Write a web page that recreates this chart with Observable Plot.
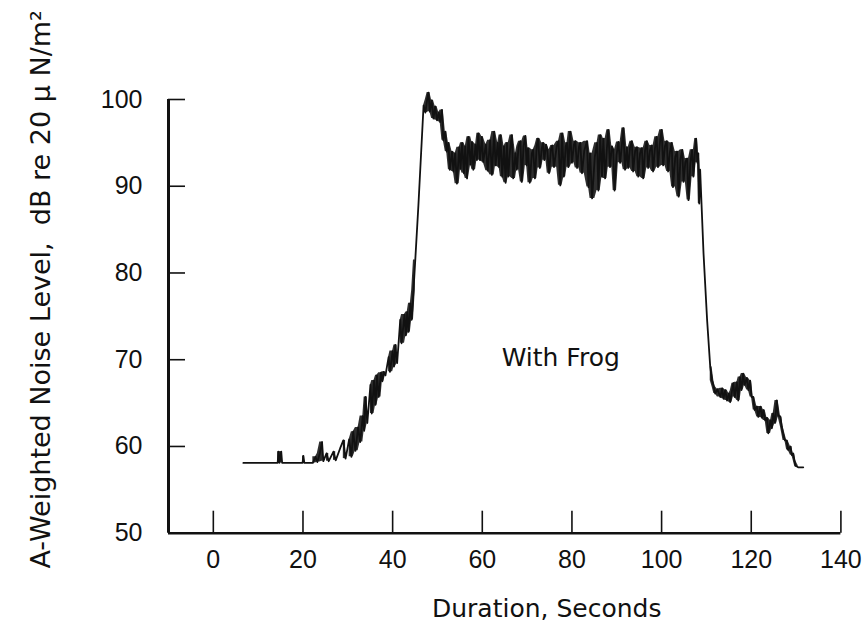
<!DOCTYPE html>
<html>
<head>
<meta charset="utf-8">
<script src="https://cdn.jsdelivr.net/npm/d3@7"></script>
<script src="https://cdn.jsdelivr.net/npm/@observablehq/plot@0.6"></script>
<style>
  html, body { margin: 0; padding: 0; background: #fff; }
  svg { display: block; }
</style>
</head>
<body>
<div id="chart"></div>
<script>
// Tick values
const xTicks = [0, 20, 40, 60, 80, 100, 120, 140];
const yTicks = [50, 60, 70, 80, 90, 100];

// Axis titles and annotation
const xTitle = "Duration, Seconds";
const yTitle = "A-Weighted Noise Level,\u00a0 dB re 20 \u03bc N/m\u00b2";
const annotation = [{label: "With Frog", t: 77.5, dB: 70.2}];

const samples = [
[6.7,58.1],[14.35,58.1],[14.55,59.4],[14.75,58.1],[15.15,59.4],[15.35,58.1],[19.9,58.1],[20.1,58.9],[20.3,58.1],
[22.2,58.1],[22.8,58.8],[23.2,58.2],[23.75,59.2],[24.25,60.5],[24.55,58.3],[25.25,59.2],[25.75,58.3],[26.8,59.4],
[27.3,58.4],[28.3,59.8],[29.0,60.7],[29.5,58.6],[30.3,60.8],[30.8,58.8],[31.2,61.7],[31.7,59.5],[32.3,62.2],
[32.75,60.5],[33.35,63.5],[33.65,61.8],[33.95,65.7],[34.35,62.7],[35.05,67.1],[35.35,63.8],[35.85,67.6],[36.2,64.8],
[36.5,68.2],[36.9,65.7],[37.4,68.5],[37.7,67.5],[38.0,68.6],[38.4,68.2],[39.1,70.3],[39.4,68.6],[40.0,71.0],
[40.3,69.2],[40.6,71.7],[41.0,69.6],[41.7,74.6],[42.0,71.9],[42.65,75.2],[42.95,72.8],[43.25,75.5],[43.55,73.2],
[43.95,76.5],[44.25,74.6],[44.65,78.0],[45.05,81.5],[45.75,87.8],[46.9,99.3],[47.3,98.5],[47.7,100.0],[48.0,100.8],
[48.3,98.6],[48.7,99.9],[49.1,97.8],[49.5,99.2],[49.9,97.6],[50.3,98.5],[50.6,97.4],[51.0,98.8],[51.3,95.3],
[51.75,96.3],[52.05,94.0],[52.45,95.0],[52.75,91.9],[53.25,94.0],[53.55,91.7],[53.95,93.8],[54.35,90.3],[54.85,94.5],
[55.15,92.0],[55.5,95.0],[55.9,91.5],[56.2,94.6],[56.6,90.9],[56.9,95.7],[57.4,92.5],[57.7,95.1],[58.0,91.9],
[58.5,94.8],[58.8,93.0],[59.1,96.1],[59.5,93.0],[59.9,95.7],[60.2,92.8],[60.8,94.8],[61.2,91.8],[61.75,95.3],
[62.15,91.3],[62.65,96.3],[62.95,92.4],[63.45,95.0],[63.75,92.2],[64.05,95.9],[64.45,91.1],[64.85,94.6],[65.2,90.4],
[65.5,95.0],[65.8,91.1],[66.2,94.2],[66.6,95.9],[66.9,90.9],[67.4,93.8],[67.7,91.9],[68.1,94.6],[68.5,95.2],
[68.8,90.5],[69.2,94.6],[69.6,95.8],[69.9,92.4],[70.2,94.4],[70.6,90.4],[71.05,93.8],[71.35,94.2],[71.75,90.9],
[72.15,94.7],[72.45,95.5],[72.85,92.1],[73.25,94.3],[73.55,95.0],[73.85,93.0],[74.2,94.8],[74.5,94.2],[74.9,91.5],
[75.3,94.2],[75.6,94.7],[76.0,92.2],[76.6,94.6],[77.0,95.2],[77.4,90.1],[77.8,96.1],[78.2,91.1],[78.6,94.6],
[78.9,95.0],[79.2,92.2],[79.6,96.3],[80.0,92.7],[80.45,94.8],[80.75,95.2],[81.15,92.1],[81.55,94.5],[81.85,95.0],
[82.25,91.5],[82.75,94.1],[83.35,95.2],[83.7,89.9],[84.05,93.8],[84.5,88.6],[85.1,93.4],[85.6,95.0],[85.9,89.5],
[86.3,95.9],[86.7,91.1],[87.0,95.5],[87.4,90.9],[87.8,94.4],[88.1,96.5],[88.5,92.2],[88.9,94.6],[89.2,94.2],
[89.5,89.5],[89.95,93.6],[90.35,95.1],[90.75,92.7],[91.15,94.8],[91.45,96.7],[91.85,91.9],[92.25,94.5],[92.55,92.1],
[92.95,94.4],[93.35,95.2],[93.65,91.7],[94.1,94.1],[94.5,94.5],[94.8,91.1],[95.2,93.8],[95.6,94.4],[95.9,90.9],
[96.3,94.1],[96.7,95.2],[97.0,92.1],[97.4,94.1],[97.8,94.7],[98.1,91.7],[98.5,94.3],[98.9,95.7],[99.2,92.2],
[99.6,94.9],[100.0,96.5],[100.35,92.4],[100.75,94.6],[101.15,95.2],[101.45,91.7],[101.85,93.9],[102.25,95.0],[102.55,89.9],
[103.05,93.4],[103.45,94.0],[103.8,88.8],[104.2,93.1],[104.6,94.2],[104.9,90.5],[105.3,92.8],[105.7,93.2],[106.0,88.4],
[106.4,92.6],[106.8,94.2],[107.1,91.1],[107.4,93.7],[107.7,95.5],[108.0,92.7],[108.2,93.8],[108.4,88.0],[108.6,91.9],
[109.35,82.3],[110.15,74.6],[110.85,69.2],[111.25,67.6],[111.65,66.9],[111.95,66.1],[112.45,66.6],[113.1,65.7],
[113.5,66.7],[113.8,65.5],[114.2,66.5],[114.6,65.3],[115.0,66.1],[115.3,65.1],[115.7,66.4],[116.0,67.3],[116.3,65.7],
[116.8,67.4],[117.1,65.3],[117.5,68.0],[117.8,66.5],[118.2,68.4],[118.5,67.1],[119.0,67.9],[119.35,66.5],[119.75,67.6],
[120.05,65.7],[120.45,65.7],[120.75,64.2],[121.25,64.6],[121.55,63.4],[122.05,64.6],[122.4,63.3],[122.7,64.2],
[123.1,63.0],[123.5,63.3],[123.8,61.5],[124.3,63.0],[124.6,62.1],[124.9,63.8],[125.3,62.7],[125.7,65.3],[126.0,63.6],
[126.5,63.4],[126.8,62.3],[127.1,61.5],[127.5,60.7],[127.9,60.7],[128.2,59.6],[128.75,60.0],[129.05,59.0],
[129.35,59.2],[129.65,58.4],[129.85,57.8],[130.45,57.6],[131.6,57.6]
];

const data = samples.map(([t, dB]) => ({t, dB}));

// dense trace band: within each run of closely spaced readings, fill the span
// covered by every reading and its immediate neighbours
const band = [];
let run = 0;
data.forEach((d, i) => {
  const prev = data[i - 1], next = data[i + 1];
  const prevClose = prev && d.t - prev.t <= 0.65;
  const nextClose = next && next.t - d.t <= 0.65;
  if (!prevClose) run++;
  if (!prevClose && !nextClose) return;
  const nb = [d.dB];
  if (prevClose) nb.push(prev.dB);
  if (nextClose) nb.push(next.dB);
  band.push({run, t: d.t, lo: Math.min(...nb), hi: Math.max(...nb)});
});

const W = 865, H = 629;
const mL = 168, mR = 24.6, mT = 99, mB = 96.3;
const frameW = W - mL - mR, frameH = H - mT - mB;
const ink = "#111";
const textFont = "'DejaVu Sans', sans-serif";
const tickFont = "'Liberation Sans', Arial, sans-serif";

const chart = Plot.plot({
  width: W,
  height: H,
  marginLeft: mL,
  marginRight: mR,
  marginTop: mT,
  marginBottom: mB,
  style: {background: "#fff", color: ink, fontFamily: tickFont, fontSize: "25px"},
  x: {domain: [-10, 140]},
  y: {domain: [50, 100]},
  marks: [
    Plot.axisX(xTicks, {tickSize: 0, tickPadding: 17, label: null, fontSize: 25, fontFamily: tickFont, fill: ink}),
    Plot.axisY(yTicks, {tickSize: 0, tickPadding: 26, label: null, fontSize: 25, fontFamily: tickFont, fill: ink}),
    // inward ticks
    Plot.tickX(xTicks, {x: d => d, insetTop: frameH - 22, stroke: ink, strokeWidth: 1.6}),
    Plot.tickY(yTicks, {y: d => d, insetRight: frameW - 17, stroke: ink, strokeWidth: 1.6}),
    // axis lines
    Plot.ruleX([-10], {stroke: ink, strokeWidth: 3}),
    Plot.ruleY([50], {stroke: ink, strokeWidth: 2.6}),
    // trace
    Plot.areaY(band, {x: "t", y1: "lo", y2: "hi", z: "run", fill: ink, fillOpacity: 0.88}),
    Plot.line(data, {x: "t", y: "dB", stroke: ink, strokeWidth: 1.8, strokeLinejoin: "round"}),
    // annotation
    Plot.text(annotation, {x: "t", y: "dB", text: "label", fontFamily: textFont, fontSize: 25, fill: ink}),
    // axis titles
    Plot.text([xTitle], {frameAnchor: "bottom", textAnchor: "middle", lineAnchor: "middle", dx: 42, dy: 76, fontFamily: textFont, fontSize: 25, fill: ink}),
    Plot.text([yTitle], {frameAnchor: "left", textAnchor: "middle", lineAnchor: "middle", rotate: -90, dx: -127, dy: -27, fontFamily: textFont, fontSize: 27, fill: ink})
  ]
});

document.getElementById("chart").appendChild(chart);
</script>
</body>
</html>
